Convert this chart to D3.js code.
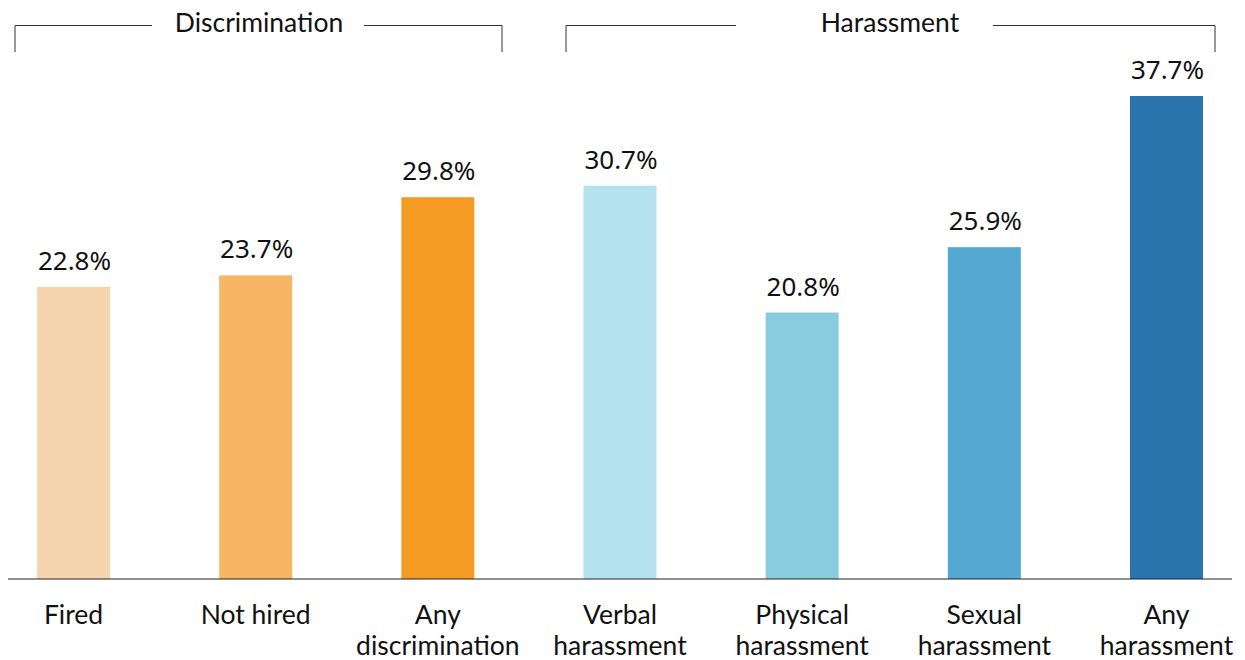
<!DOCTYPE html>
<html><head><meta charset="utf-8">
<script src="https://d3js.org/d3.v7.min.js"></script>
<style>body{margin:0;background:#fff}svg{display:block}</style>
</head><body>
<svg id="c" width="1245" height="660"></svg>
<script>
const categories = ["Fired", "Not hired", "Any discrimination", "Verbal harassment", "Physical harassment", "Sexual harassment", "Any harassment"];
const labelLines = [["Fired"], ["Not hired"], ["Any", "discrimination"], ["Verbal", "harassment"], ["Physical", "harassment"], ["Sexual", "harassment"], ["Any", "harassment"]];
const values = [22.8, 23.7, 29.8, 30.7, 20.8, 25.9, 37.7];
const colors = ["#f6d4ae", "#f8b665", "#f59b23", "#b4e2ee", "#8accdf", "#55a8d1", "#2a75ae"];
const groups = [
  {name: "Discrimination", from: 0, to: 2},
  {name: "Harassment", from: 3, to: 6}
];

const svg = d3.select("#c");
const x = d3.scalePoint().domain(categories).range([73.5, 1166.5]);
const bw = 73;
const y = d3.scaleLinear().domain([0, 37.7]).range([579, 96]);

svg.selectAll("rect.bar").data(values).join("rect")
  .attr("class", "bar")
  .attr("x", (d, i) => x(categories[i]) - bw / 2)
  .attr("width", bw)
  .attr("y", d => y(d))
  .attr("height", d => y(0) - y(d))
  .attr("fill", (d, i) => colors[i]);

svg.append("line").attr("x1", 8).attr("x2", 1232).attr("y1", y(0)).attr("y2", y(0))
  .attr("stroke", "#222").attr("stroke-width", 1.2);

svg.selectAll("text.val").data(values).join("text")
  .attr("class", "val")
  .attr("x", (d, i) => x(categories[i]) + 1)
  .attr("y", d => y(d) - 17)
  .attr("text-anchor", "middle")
  .attr("font-family", "Noto Sans, Open Sans, sans-serif")
  .attr("font-size", 26)
  .attr("fill", "#111")
  .text(d => d.toFixed(1) + "%");

const lab = svg.selectAll("text.cat").data(labelLines).join("text")
  .attr("class", "cat")
  .attr("text-anchor", "middle")
  .attr("font-family", "Lato, sans-serif")
  .attr("font-size", 26.5)
  .attr("fill", "#111")
  .attr("x", (d, i) => x(categories[i]));
lab.selectAll("tspan").data(d => d).join("tspan")
  .attr("x", function() { return d3.select(this.parentNode).attr("x"); })
  .attr("y", (d, j) => 624 + j * 31)
  .text(d => d);

// brackets
const bracketDefs = [
  {left: 15, right: 502, gapL: 152, gapR: 364, cx: 259},
  {left: 566, right: 1215, gapL: 736, gapR: 993, cx: 890}
];
groups.forEach((g, k) => {
  const b = bracketDefs[k];
  const gg = svg.append("g").attr("fill", "none").attr("stroke", "#333").attr("stroke-width", 1);
  gg.append("path").attr("d", `M${b.left},52V25.5H${b.gapL}`);
  gg.append("path").attr("d", `M${b.gapR},25.5H${b.right}V52`);
  svg.append("text").attr("x", b.cx).attr("y", 32).attr("text-anchor", "middle")
    .attr("font-family", "Lato, sans-serif").attr("font-size", 26.5).attr("fill", "#111")
    .text(g.name);
});
</script>
</body></html>
